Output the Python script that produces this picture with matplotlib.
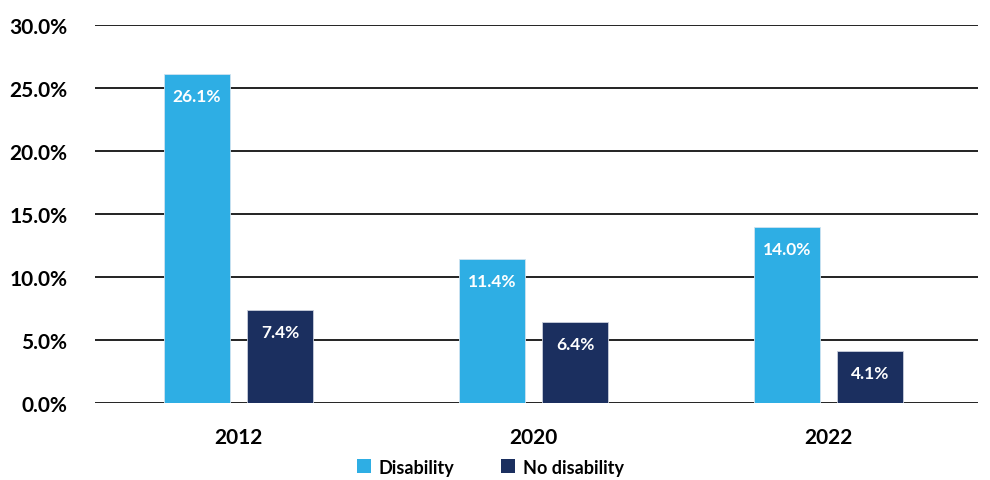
import numpy as np
import matplotlib.pyplot as plt
from matplotlib.patches import Patch

years = ['2012', '2020', '2022']
disability = [26.1, 11.4, 14.0]
no_disability = [7.4, 6.4, 4.1]
yticks = [0, 5, 10, 15, 20, 25, 30]

c_dis = '#2eaee4'
c_nodis = '#1b2f5f'

plt.rcParams['font.family'] = ['Lato', 'DejaVu Sans']

fig = plt.figure(figsize=(9.9, 4.81), dpi=100)
ax = fig.add_axes([0.096, 0.160, 0.892, 0.786])

x = np.arange(len(years))
w = 0.224
off = 0.141
b1 = ax.bar(x - off, disability, w, color=c_dis, edgecolor='#cfe3f0', linewidth=0.6, zorder=3)
b2 = ax.bar(x + off, no_disability, w, color=c_nodis, edgecolor='#c9cfdc', linewidth=0.6, zorder=3)

# value labels just inside the top of each bar
for bars, vals in [(b1, disability), (b2, no_disability)]:
    for r, v in zip(bars, vals):
        ax.annotate(f'{v:.1f}%', (r.get_x() + r.get_width() / 2, v),
                    xytext=(0, -22), textcoords='offset pixels',
                    ha='center', va='center', color='white', fontsize=12.5,
                    fontweight='bold', zorder=4)

ax.set_xlim(-0.486, 2.507)
ax.set_ylim(0, 30)
ax.set_yticks(yticks)
ax.set_yticklabels([f'{t:.1f}%' for t in yticks], fontsize=15, fontweight='bold')
ax.set_xticks(x)
ax.set_xticklabels(years, fontsize=15, fontweight='bold')
ax.tick_params(axis='y', length=0, pad=20)
ax.tick_params(axis='x', length=0, pad=17)
ax.yaxis.grid(True, color='#222222', linewidth=1.4, zorder=0)
for s in ax.spines.values():
    s.set_visible(False)

handles = [Patch(facecolor=c_dis, label='Disability'),
           Patch(facecolor=c_nodis, label='No disability')]
fig.legend(handles=handles, loc='center', bbox_to_anchor=(0.495, 0.027), ncol=2,
           frameon=False, prop={'size': 13, 'weight': 'bold'},
           handlelength=0.8, handleheight=0.8, handletextpad=0.4, columnspacing=2.6)

fig.savefig('out.png', dpi=100)
